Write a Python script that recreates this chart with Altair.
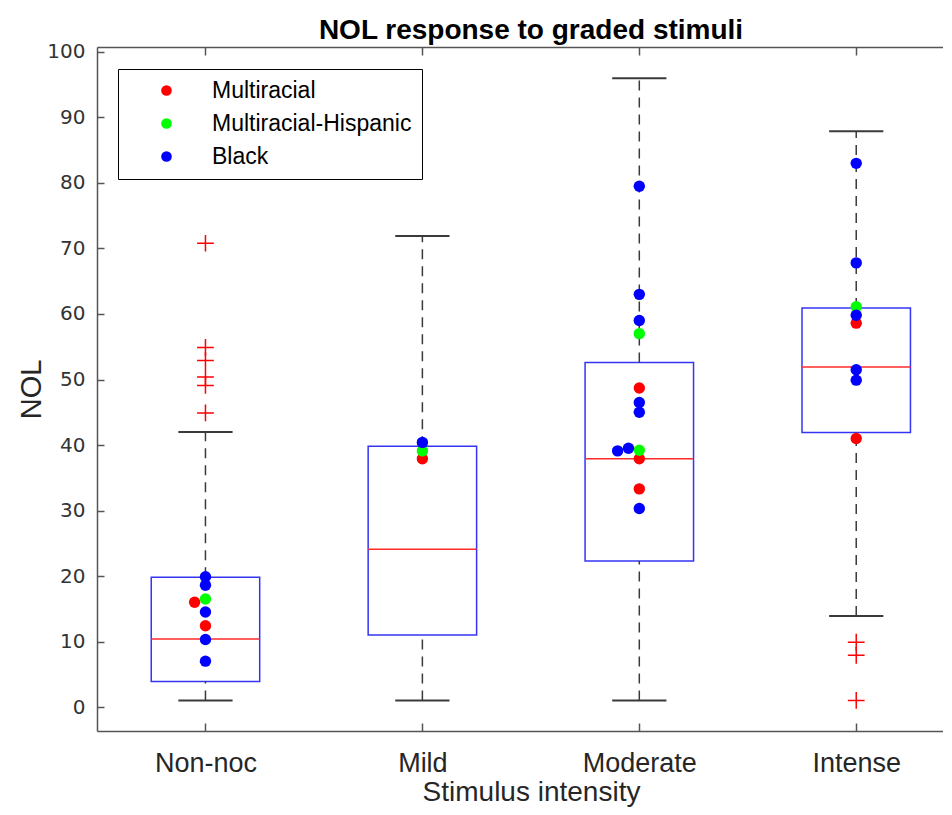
import altair as alt
import pandas as pd

# ---------------- data ----------------
categories = ["Non-noc", "Mild", "Moderate", "Intense"]
positions = [1, 2, 3, 4]
whisker_low = [1.0, 1.0, 1.0, 13.9]
q1 = [3.9, 11.0, 22.3, 41.9]
median = [10.4, 24.1, 37.9, 51.9]
q3 = [19.8, 39.8, 52.6, 60.9]
whisker_high = [42.0, 71.9, 96.0, 87.9]

outlier_pos = [1, 1, 1, 1, 1, 1, 4, 4, 4]
outlier_val = [70.8, 54.9, 52.9, 50.4, 49.1, 44.9, 9.9, 7.9, 1.0]

groups = ["Multiracial", "Multiracial-Hispanic", "Black"]
group_colors = ["#ff0000", "#00ff00", "#0000ff"]

point_group = (["Multiracial"] * 8 + ["Multiracial-Hispanic"] * 5 + ["Black"] * 19)
point_pos = [1, 1, 2, 3, 3, 3, 4, 4,
             1, 2, 3, 3, 4,
             1, 1, 1, 1, 1, 2, 3, 3, 3, 3, 3, 3, 3, 3, 4, 4, 4, 4, 4]
point_jitter = [-0.05, 0, 0, 0, 0, 0, 0, 0,
                0, 0, 0, 0, 0,
                0, 0, 0, 0, 0, 0, 0, 0, 0, 0, 0, -0.10, -0.05, 0, 0, 0, 0, 0, 0]
point_val = [16.0, 12.4, 37.9, 48.7, 37.9, 33.3, 58.6, 41.0,
             16.5, 39.1, 57.0, 39.2, 61.1,
             19.9, 18.6, 14.5, 10.3, 7.0, 40.4, 79.5, 63.0, 59.0, 46.5, 45.0, 39.1, 39.5, 30.3,
             83.0, 67.8, 59.8, 51.5, 49.9]

y_ticks = list(range(0, 101, 10))

# ---------------- layout / style ----------------
W, H = 846, 684
BOX_HALF = 0.25
CAP_HALF = 0.125
BOX_COLOR = "#3434f5"
MED_COLOR = "#ff2a2a"
WHISK_COLOR = "#3a3a3a"
TEXT = "#262626"
FONT = "Liberation Sans"
CROSS = "M-1,0L1,0M0,-1L0,1"

box_df = pd.DataFrame({"category": categories, "pos": positions, "lo": whisker_low,
                       "q1": q1, "med": median, "q3": q3, "hi": whisker_high})
box_df["left"] = box_df["pos"] - BOX_HALF
box_df["right"] = box_df["pos"] + BOX_HALF
box_df["capl"] = box_df["pos"] - CAP_HALF
box_df["capr"] = box_df["pos"] + CAP_HALF

out_df = pd.DataFrame({"pos": outlier_pos, "val": outlier_val})
pts_df = pd.DataFrame({"group": point_group, "pos": point_pos,
                       "jit": point_jitter, "val": point_val})
pts_df["xpos"] = pts_df["pos"] + pts_df["jit"]

xs = alt.Scale(domain=[0.5, 4.4], nice=False, zero=False)
ys = alt.Scale(domain=[-3.66, 100.76], nice=False, zero=False)

label_expr = "[" + ",".join("'" + c + "'" for c in categories) + "][datum.value - 1]"

x_main_axis = alt.Axis(orient="bottom", values=positions, labelExpr=label_expr,
                       ticks=False, tickSize=0, domain=True, grid=False,
                       labelFont=FONT, labelFontSize=27, labelColor=TEXT,
                       labelPadding=40, labelBaseline="alphabetic",
                       title="Stimulus intensity", titleFont=FONT, titleFontSize=28,
                       titleFontWeight="normal", titleColor=TEXT,
                       titleX=434, titleY=69, titleBaseline="alphabetic", titleAlign="center")
y_main_axis = alt.Axis(orient="left", values=y_ticks, ticks=False, tickSize=0,
                       domain=True, grid=False,
                       labelFont="DejaVu Sans", labelFontSize=20, labelColor="#333333",
                       labelPadding=12,
                       title="NOL", titleFont=FONT, titleFontSize=29, titleFontWeight="normal",
                       titleColor=TEXT, titleAngle=270, titleX=-57, titleY=H / 2,
                       titleBaseline="alphabetic", titleAlign="center")

boxes = alt.Chart(box_df).mark_rect(fill="transparent", stroke=BOX_COLOR, strokeWidth=1.5).encode(
    x=alt.X("left:Q", scale=xs, axis=x_main_axis), x2="right:Q",
    y=alt.Y("q1:Q", scale=ys, axis=y_main_axis), y2="q3:Q")

upper_whisk = alt.Chart(box_df).mark_rule(color=WHISK_COLOR, strokeWidth=1.5, strokeDash=[10, 7]).encode(
    x=alt.X("pos:Q", scale=xs,
            axis=alt.Axis(orient="top", offset=-H, values=positions, labels=False, domain=False,
                          ticks=True, tickSize=8, grid=False, title=None)),
    y=alt.Y("q3:Q", scale=ys,
            axis=alt.Axis(orient="right", offset=-W, values=y_ticks, labels=False, domain=False,
                          ticks=True, tickSize=7, grid=False, title=None)),
    y2="hi:Q")

lower_whisk = alt.Chart(box_df).mark_rule(color=WHISK_COLOR, strokeWidth=1.5, strokeDash=[10, 7]).encode(
    x=alt.X("pos:Q", scale=xs,
            axis=alt.Axis(orient="bottom", offset=-H, values=positions, labels=False, domain=True,
                          ticks=True, tickSize=8, grid=False, title=None)),
    y=alt.Y("lo:Q", scale=ys, axis=None),
    y2="q1:Q")

caps_hi = alt.Chart(box_df).mark_rule(color=WHISK_COLOR, strokeWidth=2).encode(
    x=alt.X("capl:Q", scale=xs, axis=None), x2="capr:Q",
    y=alt.Y("hi:Q", scale=ys, axis=None))
caps_lo = alt.Chart(box_df).mark_rule(color=WHISK_COLOR, strokeWidth=2).encode(
    x=alt.X("capl:Q", scale=xs, axis=None), x2="capr:Q",
    y=alt.Y("lo:Q", scale=ys, axis=None))
medians = alt.Chart(box_df).mark_rule(color=MED_COLOR, strokeWidth=1.5).encode(
    x=alt.X("left:Q", scale=xs, axis=None), x2="right:Q",
    y=alt.Y("med:Q", scale=ys, axis=None))

outliers = alt.Chart(out_df).mark_point(shape=CROSS, size=280, filled=False, stroke="#ff0000",
                                        strokeWidth=1.5, opacity=1).encode(
    x=alt.X("pos:Q", scale=xs, axis=None),
    y=alt.Y("val:Q", scale=ys, axis=None))

points = alt.Chart(pts_df).mark_circle(size=130, opacity=1).encode(
    x=alt.X("xpos:Q", scale=xs, axis=None),
    y=alt.Y("val:Q", scale=ys, axis=None),
    color=alt.Color("group:N", scale=alt.Scale(domain=groups, range=group_colors),
                    legend=alt.Legend(title=None, orient="none", legendX=21, legendY=22,
                                      padding=10, symbolOffset=27, labelOffset=34,
                                      symbolSize=113, symbolType="circle", symbolStrokeWidth=0,
                                      labelFont=FONT, labelFontSize=23, labelColor="black",
                                      labelLimit=400,
                                      rowPadding=9, strokeColor="black", fillColor="white",
                                      cornerRadius=0)))

chart = alt.layer(boxes, upper_whisk, lower_whisk, caps_hi, caps_lo, medians, outliers, points).resolve_axis(
    x="independent", y="independent"
).properties(
    width=W, height=H,
    padding={"left": 89, "top": 39, "right": 0, "bottom": 76},
    autosize=alt.AutoSizeParams(type="none"),
    title=alt.TitleParams(text="NOL response to graded stimuli", font=FONT, fontSize=28,
                          fontWeight="bold", color="black", anchor="middle", frame="group",
                          dx=11, offset=-25, baseline="alphabetic"),
).configure_view(stroke=None).configure_axis(
    domainColor="#555555", tickColor="#555555", domainWidth=1.5, tickWidth=1.5
)

chart.save("out.html", embed_options={"renderer": "svg", "actions": False})
